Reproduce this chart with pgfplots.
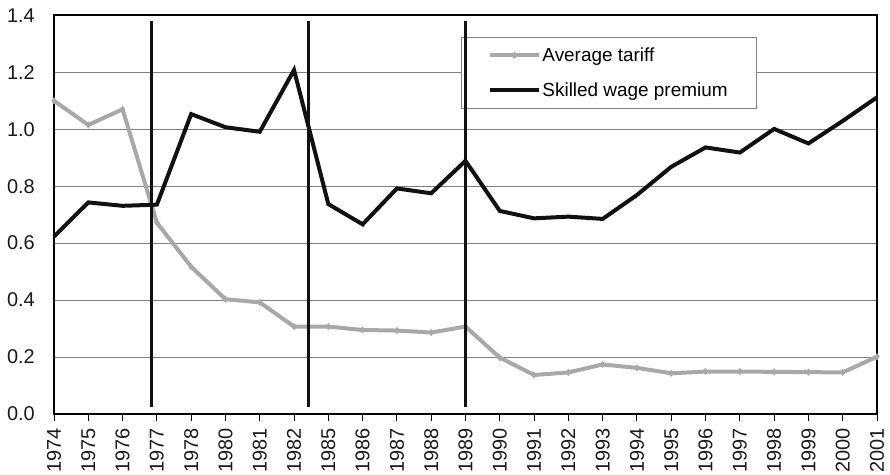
\documentclass[border=0pt]{standalone}
\usepackage{fontspec}
\setmainfont{Liberation Sans}
\usepackage{pgfplots}
\pgfplotsset{compat=1.18}
\definecolor{tariffgray}{RGB}{168,168,168}
\definecolor{premblack}{RGB}{17,17,17}
\definecolor{gridgray}{RGB}{128,128,128}
\begin{document}
\begin{tikzpicture}
\begin{axis}[
  at={(54bp,61bp)}, anchor=south west,
  scale only axis, width=823bp, height=398.7bp,
  xmin=0, xmax=24, ymin=0, ymax=1.4,
  clip=false,
  xtick={0,...,24},
  xticklabels={1974,1975,1976,1977,1978,1980,1981,1982,1985,1986,1987,1988,1989,1990,1991,1992,1993,1994,1995,1996,1997,1998,1999,2000,2001},
  ytick={0,0.2,0.4,0.6,0.8,1.0,1.2,1.4},
  xtick pos=bottom, ytick pos=left,
  ymajorgrids,
  grid style={gridgray, line width=1bp},
  axis line style={line width=1.6bp, black},
  tick align=outside,
  major tick length=7bp,
  xtick style={black, line width=1bp},
  ytick style={draw=none},
  tick label style={font=\fontsize{20}{22}\selectfont, text=black!90},
  xticklabel style={rotate=90, anchor=east, xshift=-7bp, inner sep=0bp},
  yticklabel style={anchor=east, inner sep=0bp, xshift=-12bp},
  /pgf/number format/.cd, fixed, fixed zerofill, precision=1, assume math mode=true,
  /pgfplots/.cd,
  legend style={at={(0.494,0.945)}, anchor=north west, draw=gridgray, line width=0.8bp, fill=white,
    inner xsep=27bp, inner ysep=8.5bp, row sep=17bp,
    font=\fontsize{19}{22}\selectfont, cells={anchor=west},
    nodes={inner sep=1.5bp, text depth=0.15em}},
  legend image code/.code={\draw[mark repeat=2, mark phase=2, #1] plot coordinates {(0bp,0bp) (24.5bp,0bp) (49bp,0bp)};},
]
\addplot[tariffgray, line width=4bp, mark=diamond*, mark size=3.2bp, mark options={line width=0.5bp}] coordinates {
(0,1.100) (1,1.015) (2,1.070) (3,0.672) (4,0.517) (5,0.403) (6,0.392) (7,0.307)
(8,0.307) (9,0.295) (10,0.293) (11,0.286) (12,0.307) (13,0.198) (14,0.137) (15,0.146)
(16,0.174) (17,0.162) (18,0.143) (19,0.149) (20,0.149) (21,0.148) (22,0.147) (23,0.146) (24,0.201)};
\addlegendentry{Average tariff}
\addplot[premblack, line width=4bp, line join=miter] coordinates {
(0,0.623) (1,0.743) (2,0.731) (3,0.735) (4,1.053) (5,1.007) (6,0.991) (7,1.208)
(8,0.737) (9,0.666) (10,0.792) (11,0.775) (12,0.889) (13,0.713) (14,0.687) (15,0.693)
(16,0.685) (17,0.769) (18,0.868) (19,0.936) (20,0.918) (21,1.001) (22,0.950) (23,1.029) (24,1.112)};
\addlegendentry{Skilled wage premium}
\coordinate (v1b) at (axis cs:2.83,0.025);
\coordinate (v1t) at (axis cs:2.83,1.381);
\coordinate (v2b) at (axis cs:7.43,0.025);
\coordinate (v2t) at (axis cs:7.43,1.381);
\coordinate (v3b) at (axis cs:12,0.025);
\coordinate (v3t) at (axis cs:12,1.381);
\end{axis}
\draw[premblack, line width=3bp] (v1b) -- (v1t);
\draw[premblack, line width=3bp] (v2b) -- (v2t);
\draw[premblack, line width=3bp] (v3b) -- (v3t);
\pgfresetboundingbox
\useasboundingbox (0bp,0bp) rectangle (890bp,475bp);
\end{tikzpicture}
\end{document}
